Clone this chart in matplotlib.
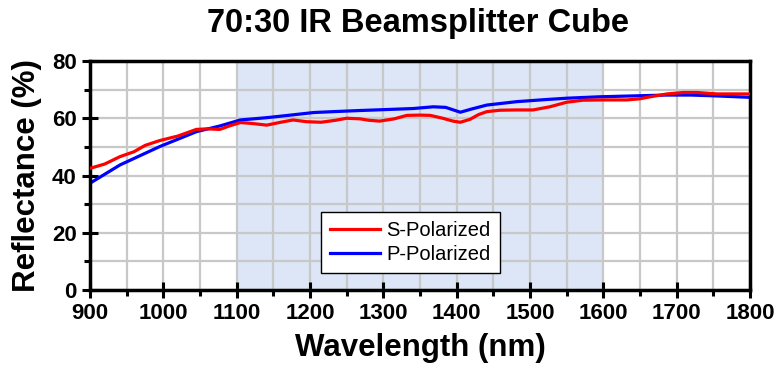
import matplotlib
matplotlib.use("Agg")
import matplotlib.pyplot as plt
from matplotlib.ticker import MultipleLocator

wl_s = [900, 920, 941, 960, 975, 995, 1020, 1045, 1060, 1077, 1090, 1105, 1120, 1141, 1160, 1177,
        1195, 1215, 1235, 1250, 1268, 1280, 1295, 1315, 1332, 1350, 1364, 1381, 1395, 1405, 1418,
        1430, 1441, 1459, 1480, 1504, 1527, 1550, 1572, 1600, 1632, 1650, 1664, 1687, 1709, 1728,
        1755, 1780, 1800]
s_pol = [42.5, 44.0, 46.6, 48.3, 50.5, 52.2, 53.8, 56.1, 56.3, 56.1, 57.3, 58.5, 58.2, 57.6, 58.6, 59.4,
         58.8, 58.6, 59.3, 60.0, 59.8, 59.3, 59.0, 59.8, 61.0, 61.1, 61.0, 60.0, 59.0, 58.6, 59.6,
         61.3, 62.3, 62.8, 62.9, 62.9, 64.0, 65.6, 66.3, 66.4, 66.4, 66.8, 67.5, 68.5, 69.0, 69.0,
         68.5, 68.5, 68.5]

wl_p = [900, 941, 995, 1045, 1077, 1105, 1141, 1170, 1205, 1240, 1268, 1300, 1341, 1368, 1385, 1405,
        1420, 1441, 1482, 1520, 1550, 1595, 1640, 1686, 1720, 1755, 1800]
p_pol = [37.3, 43.7, 50.1, 55.3, 57.3, 59.4, 60.2, 61.0, 62.0, 62.4, 62.7, 63.0, 63.4, 64.0, 63.8, 62.1,
         63.2, 64.6, 65.8, 66.5, 67.0, 67.5, 67.8, 68.1, 68.1, 67.8, 67.3]

shade_range = [1100, 1600]
title = "70:30 IR Beamsplitter Cube"
xlabel = "Wavelength (nm)"
ylabel = "Reflectance (%)"

plt.rcParams['font.family'] = ['Liberation Sans', 'DejaVu Sans']

fig = plt.figure(figsize=(7.8, 3.7), dpi=100)
ax = fig.add_axes([90/780, 80/370, 660/780, 229/370])

ax.axvspan(shade_range[0], shade_range[1], color='#dce6f6', zorder=0, lw=0)
ax.plot(wl_s, s_pol, color='#ff0000', lw=2.3, label='S-Polarized', zorder=3)
ax.plot(wl_p, p_pol, color='#0000ff', lw=2.3, label='P-Polarized', zorder=2)

ax.set_xlim(900, 1800)
ax.set_ylim(0, 80)
ax.xaxis.set_major_locator(MultipleLocator(100))
ax.xaxis.set_minor_locator(MultipleLocator(50))
ax.yaxis.set_major_locator(MultipleLocator(20))
ax.yaxis.set_minor_locator(MultipleLocator(10))
ax.grid(True, which='both', color='#c8c8c8', lw=1.6, zorder=1)
ax.set_axisbelow(True)

for sp in ax.spines.values():
    sp.set_linewidth(2.5)
ax.tick_params(which='major', direction='inout', length=11, width=2.2, labelsize=16, pad=4)
ax.tick_params(which='minor', direction='out', length=4, width=2.2)
for lbl in ax.get_xticklabels() + ax.get_yticklabels():
    lbl.set_fontweight('bold')

ax.set_xlabel(xlabel, fontsize=22.5, fontweight='bold', labelpad=6)
ax.set_ylabel(ylabel, fontsize=22.5, fontweight='bold', labelpad=7)
fig.text(418/780, 1 - 32/370, title, ha='center', va='baseline', fontsize=23.5, fontweight='bold')

leg = ax.legend(loc='lower left', bbox_to_anchor=(0.35, 0.074), fontsize=14.5, frameon=True,
                fancybox=False, edgecolor='black', framealpha=1, borderpad=0.45,
                handlelength=2.5, handletextpad=0.3, labelspacing=0.25, borderaxespad=0)
leg.get_frame().set_linewidth(1)
leg.set_zorder(5)

fig.savefig('out.png', dpi=100)
